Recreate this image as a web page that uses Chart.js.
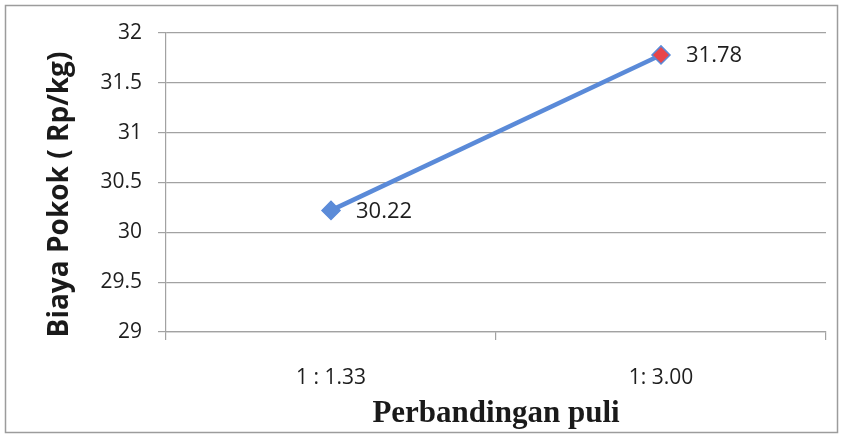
<!DOCTYPE html>
<html>
<head>
<meta charset="utf-8">
<script src="https://cdn.jsdelivr.net/npm/chart.js@4/dist/chart.umd.min.js"></script>
<style>
  html, body { margin: 0; padding: 0; background: #ffffff; }
  #wrap { width: 843px; height: 437px; position: relative; }
</style>
</head>
<body>
<div id="wrap"><canvas id="c" width="843" height="437"></canvas></div>
<script>
// Production cost per pulley ratio
const categories = ['1 : 1.33', '1: 3.00'];
const biayaPokok = [30.22, 31.78];
const pointFills = ['#5B8BD8', '#E8454A'];
const yMin = 29;
const yMax = 32;
const yStep = 0.5;
const yTitle = 'Biaya Pokok ( Rp/kg)';
const xTitle = 'Perbandingan puli';

const GRID = '#a2a2a2';
const LINE = '#5A8AD8';

// white page with a thin grey frame
const framePlugin = {
  id: 'frame',
  beforeDraw(chart) {
    const ctx = chart.ctx;
    ctx.save();
    ctx.fillStyle = '#ffffff';
    ctx.fillRect(0, 0, chart.width, chart.height);
    ctx.strokeStyle = '#9c9c9c';
    ctx.lineWidth = 1.5;
    ctx.strokeRect(5.5, 5.5, chart.width - 11, chart.height - 10);
    ctx.restore();
  }
};

// value labels to the right of each point, plus the rotated y title
const labelPlugin = {
  id: 'valueLabels',
  afterDatasetsDraw(chart) {
    const ctx = chart.ctx;
    const meta = chart.getDatasetMeta(0);
    ctx.save();
    ctx.font = '22px "Open Sans"';
    ctx.fillStyle = '#1e1e1e';
    ctx.textAlign = 'left';
    ctx.textBaseline = 'middle';
    meta.data.forEach((pt, i) => {
      ctx.fillText(String(biayaPokok[i]), pt.x + 25, pt.y + 1);
    });
    ctx.restore();

    const area = chart.chartArea;
    ctx.save();
    ctx.translate(60, (area.top + area.bottom) / 2 + 12);
    ctx.rotate(-Math.PI / 2);
    ctx.font = 'bold 28px "Open Sans"';
    ctx.fillStyle = '#1a1a1a';
    ctx.textAlign = 'center';
    ctx.textBaseline = 'middle';
    ctx.fillText(yTitle, 0, 0);
    ctx.restore();
  }
};

new Chart(document.getElementById('c'), {
  type: 'line',
  data: {
    labels: categories,
    datasets: [{
      data: biayaPokok,
      borderColor: LINE,
      borderWidth: 4.5,
      pointStyle: 'rectRot',
      pointRadius: 9,
      pointBorderWidth: 1.5,
      pointBorderColor: LINE,
      pointBackgroundColor: pointFills,
      tension: 0,
      fill: false
    }]
  },
  options: {
    responsive: false,
    animation: false,
    devicePixelRatio: 1,
    layout: { padding: { top: 33, right: 17, left: 0, bottom: 0 } },
    plugins: {
      legend: { display: false },
      tooltip: { enabled: false }
    },
    scales: {
      x: {
        type: 'category',
        offset: true,
        grid: {
          offset: true,
          drawOnChartArea: false,
          drawTicks: true,
          tickLength: 8,
          color: GRID,
          lineWidth: 1.2
        },
        border: { display: true, color: GRID, width: 1.2 },
        ticks: {
          color: '#1e1e1e',
          font: { family: 'Open Sans', size: 21 },
          padding: 25,
          maxRotation: 0
        },
        title: {
          display: true,
          text: xTitle,
          color: '#1a1a1a',
          font: { family: 'Liberation Serif', size: 31, weight: 'bold' },
          padding: { top: 0, bottom: 4 }
        },
        afterFit(scale) { scale.height = 105; }
      },
      y: {
        min: yMin,
        max: yMax,
        ticks: {
          stepSize: yStep,
          color: '#1e1e1e',
          font: { family: 'Open Sans', size: 21 },
          padding: 16,
          callback: (v) => String(Math.round(v * 10) / 10)
        },
        grid: {
          color: GRID,
          lineWidth: 1.2,
          tickLength: 8,
          drawTicks: true
        },
        border: { display: true, color: GRID, width: 1.2 },
        afterFit(scale) { scale.width = 166; }
      }
    }
  },
  plugins: [framePlugin, labelPlugin]
});
</script>
</body>
</html>
